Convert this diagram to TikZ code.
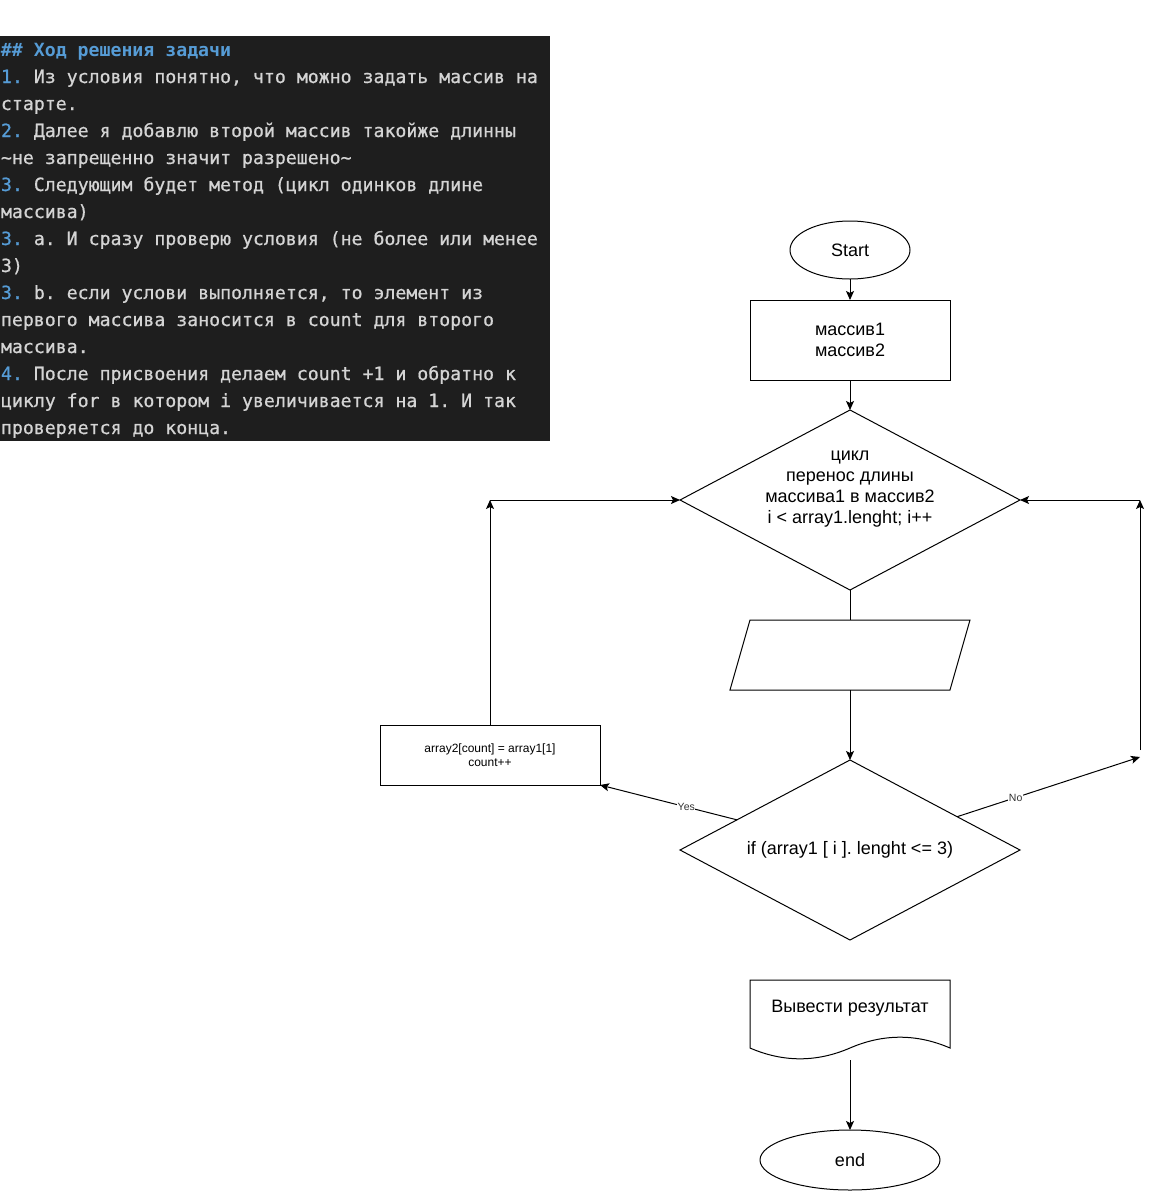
\documentclass[tikz,border=0pt]{standalone}
\usepackage{fontspec}
\setmainfont{Liberation Sans}
\newfontfamily\codefont[FakeBold=0.7]{DejaVu Sans Mono}
\newfontfamily\codeboldfont{DejaVu Sans Mono Bold}
\usetikzlibrary{shapes.geometric,arrows.meta,calc}
\definecolor{codebg}{HTML}{1E1E1E}
\definecolor{codefg}{HTML}{D4D4D4}
\definecolor{codeblue}{HTML}{569CD6}
\newcommand{\listno}[1]{\textcolor{codeblue}{#1}}
\frenchspacing
\begin{document}
\begin{tikzpicture}[x=1pt,y=-1pt,line width=1pt,
  every node/.style={inner sep=0pt,outer sep=0pt},
  codeline/.style={anchor=base west,text=codefg,font=\codefont\fontsize{18.2}{27}\selectfont},
  codehead/.style={codeline,text=codeblue,font=\codeboldfont\fontsize{18.2}{27}\selectfont},
  body/.style={font=\fontsize{18}{21}\selectfont,align=center},
  small/.style={font=\fontsize{12}{14.5}\selectfont,align=center},
  terminal/.style={draw,ellipse},
  process/.style={draw,rectangle},
  decision/.style={draw,diamond},
  flow/.style={-{Stealth[length=9pt,width=8pt,inset=2pt]}},
  edgelabel/.style={fill=white,inner sep=0.6pt,font=\fontsize{10.5}{12}\selectfont,text=black!80}]
\path[use as bounding box] (0,0) rectangle (1149,1191);

% markdown notes panel
\fill[codebg] (0,36) rectangle (550,441);
\node[codehead] (n1)  at (1,56)  {\#\# Ход решения задачи};
\node[codeline] (n2)  at (1,83)  {\listno{1.} Из условия понятно, что можно задать массив на};
\node[codeline] (n3)  at (1,110) {старте.};
\node[codeline] (n4)  at (1,137) {\listno{2.} Далее я добавлю второй массив такойже длинны};
\node[codeline] (n5)  at (1,164) {\textasciitilde не запрещенно значит разрешено\textasciitilde};
\node[codeline] (n6)  at (1,191) {\listno{3.} Следующим будет метод (цикл одинков длине};
\node[codeline] (n7)  at (1,218) {массива)};
\node[codeline] (n8)  at (1,245) {\listno{3.} a. И сразу проверю условия (не более или менее};
\node[codeline] (n9)  at (1,272) {3)};
\node[codeline] (n10) at (1,299) {\listno{3.} b. если услови выполняется, то элемент из};
\node[codeline] (n11) at (1,326) {первого массива заносится в count для второго};
\node[codeline] (n12) at (1,353) {массива.};
\node[codeline] (n13) at (1,380) {\listno{4.} После присвоения делаем count +1 и обратно к};
\node[codeline] (n14) at (1,407) {циклу for в котором i увеличивается на 1. И так};
\node[codeline] (n15) at (1,434) {проверяется до конца.};

% flowchart shapes
\node[terminal,minimum width=120,minimum height=58,body] (start) at (850,250) {Start};
\node[process,minimum width=200,minimum height=80,body] (init) at (850,340) {массив1\\массив2};
\node[decision,minimum width=340,minimum height=180] (loop) at (850,500) {};
\node[body] (looptext) at (850,489) {цикл\\перенос длины\\массива1 в массив2\\i < array1.lenght; i++};
\node[minimum width=240,minimum height=70] (io) at (850,655) {};
\draw (750,620) -- (970,620) -- (950,690) -- (730,690) -- cycle;
\node[decision,minimum width=340,minimum height=180] (cond) at (850,850) {};
\node[body] (condtext) at (850,850) {if (array1 [ i ]. lenght <= 3)};
\node[process,minimum width=220,minimum height=60,small] (assign) at (490,755) {array2[count] = array1[1]\\count++};
\node[minimum width=200,minimum height=80] (doc) at (850,1020) {};
\draw (doc.north west) -- (doc.north east) -- (950,1048)
  .. controls (916.67,1033.6) and (883.33,1033.6) .. (850,1048)
  .. controls (816.67,1062.4) and (783.33,1062.4) .. (750,1048) -- cycle;
\node[body] (doctext) at (850,1008) {Вывести результат};
\node[terminal,minimum width=180,minimum height=60,body] (finish) at (850,1160) {end};

% loop-back corners
\coordinate (yesUp) at (490,500);
\coordinate (noEnd) at (1140,757);
\coordinate (noLow) at (1140,750);
\coordinate (noUp) at (1140,500);

% connectors
\draw[flow] (start) -- (init);
\draw[flow] (init) -- (loop);
\draw (loop.south) -- (io.north);
\draw[flow] (io.south) -- (cond.north);
\draw[flow] ($(cond.west)!0.335!(cond.north)$) -- node[edgelabel,pos=0.37] {Yes} (assign.south east);
\draw[flow] (assign.north) -- (yesUp);
\draw[flow] (yesUp) -- (loop.west);
\draw[flow] ($(cond.east)!0.37!(cond.north)$) -- node[edgelabel,pos=0.32] {No} (noEnd);
\draw[flow] (noLow) -- (noUp);
\draw[flow] (noUp) -- (loop.east);
\draw[flow] (doc.south) -- (finish.north);
\end{tikzpicture}
\end{document}
